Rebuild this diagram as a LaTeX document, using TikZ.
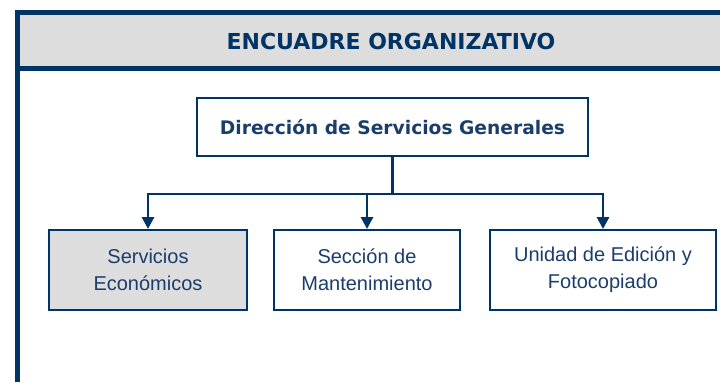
\documentclass[tikz,border=0pt]{standalone}
\usepackage{fontspec}
\setmainfont{DejaVu Sans}
\newfontfamily\unitfont{Liberation Sans}
\usetikzlibrary{positioning,arrows.meta,calc}
\definecolor{cNavy}{HTML}{003366}
\definecolor{cText}{HTML}{1B3D6B}
\definecolor{cBand}{HTML}{DDDDDD}
\tikzset{
  >={Triangle[length=9pt,width=9pt]},
  ubox/.style={draw=cNavy,line width=1.5pt,align=center,text=cText,
               minimum height=60pt,inner sep=2pt},
  udir/.style={ubox,font=\bfseries\fontsize{14}{16}\selectfont,
               minimum width=293pt,minimum height=43.5pt},
  uunit/.style={ubox,font=\unitfont\fontsize{15}{20}\selectfont},
  uline/.style={draw=cNavy,line width=2.2pt},
  uar/.style={->,cNavy,line width=2.2pt},
  frame/.style={draw=cNavy,line width=3.8pt},
}
\begin{document}
\begin{tikzpicture}[x=0.75pt,y=-0.75pt]
    \useasboundingbox (0,0) rectangle (720,382);
    % header band and frame
    \fill[cBand] (17,14) rectangle (720,67);
    \draw[frame] (15,12.5) -- (720,12.5);
    \draw[frame] (15,68.5) -- (720,68.5);
    \draw[frame] (17.5,10.5) -- (17.5,382);
    \node[text=cNavy,font=\bfseries\fontsize{16.5}{18}\selectfont] (title) at (391,41) {ENCUADRE ORGANIZATIVO};
    % organigram
    \node[udir] (dir) at (392.5,127) {Dirección de Servicios Generales};
    \node[uunit,fill=cBand,minimum width=148.5pt] (seco) at (148,270) {Servicios\\Económicos};
    \node[uunit,minimum width=139pt] (mant) at (367,270) {Sección de\\Mantenimiento};
    \node[uunit,minimum width=169.5pt] (edic) at (603,270) {Unidad de Edición y\\Fotocopiado};
    \coordinate (split) at ($(dir.south)+(0,37)$);
    \draw[uline] (dir.south) -- (split);   % stem, then the bar
    \draw[uar] (split) -| (seco.north);
    \draw[uar] (split) -| (edic.north);
    \draw[uar] (split -| mant.north) -- (mant.north);
\end{tikzpicture}
\end{document}
